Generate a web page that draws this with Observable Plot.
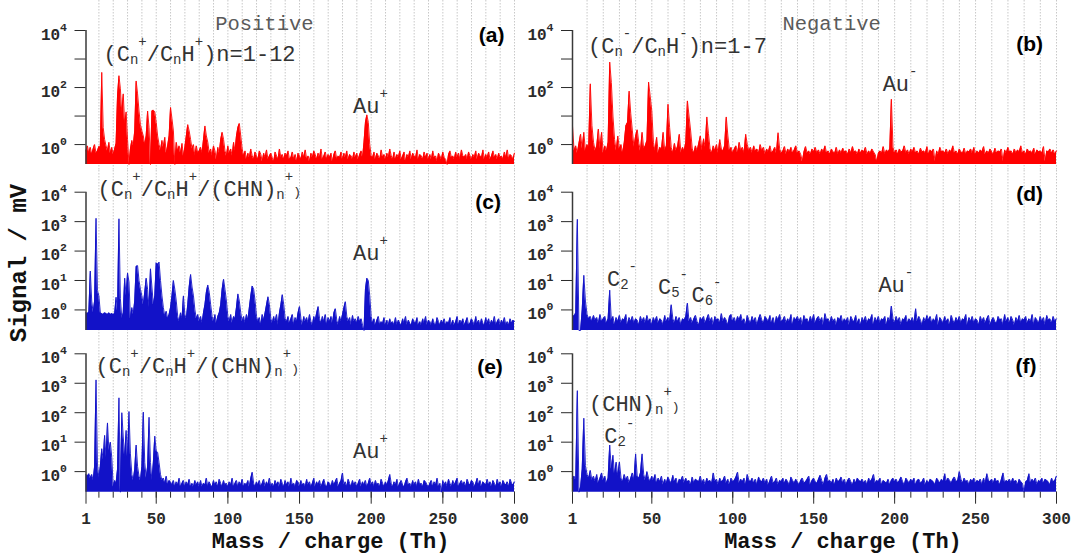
<!DOCTYPE html>
<html><head><meta charset="utf-8">
<script src="https://cdn.jsdelivr.net/npm/d3@7"></script>
<script src="https://cdn.jsdelivr.net/npm/@observablehq/plot@0.6"></script>
<style>
html,body{margin:0;padding:0;background:#fff;overflow:hidden;}
#fig{position:relative;width:1072px;height:554px;overflow:hidden;}
#fig > div{position:absolute;}
</style></head><body><div id="fig"></div>
<script>
// ---- Spectra: signal (mV) at m/z = 1..300, one value per unit ----
const posA = [ // (a) positive, red
0.6,0.9,0.5,0.8,0.45,0.7,1.0,0.5,0.6,0.85,
0.8,340,4,1.5,0.9,0.6,1.2,0.5,0.8,0.45,
0.7,1.1,50,260,90,12,60,5,14,1.5,
0.2,0.7,1.4,0.9,3,170,60,15,5,3,
2,1,2,15,4,0.2,15,16,14,6,
2,1,0.6,1.4,0.8,1.8,0.5,0.9,2,20,
8,3,0.2,1.2,0.6,0.9,0.5,1.1,0.4,0.8,
2,5,3,1.5,0.7,1,0.4,0.9,0.5,0.6,
0.8,0.5,1.5,4.5,2,1.2,0.5,0.7,0.4,0.9,
0.6,0.3,0.8,0.5,1.5,2.7,1.5,0.6,0.4,0.9,
0.5,0.7,0.4,1.2,0.6,2,4,5.5,2,0.7,
0.4,0.6,0.3,0.5,0.35,0.7,0.4,0.3,0.55,0.4,
0.3,0.6,0.45,0.25,0.5,0.35,0.65,0.3,0.4,0.5,
0.35,0.25,0.55,0.4,0.3,0.7,0.35,0.45,0.3,0.5,
0.4,0.6,0.3,0.35,0.55,0.3,0.45,0.25,0.5,0.4,
0.3,0.55,0.35,0.65,0.3,0.4,0.25,0.5,0.35,0.6,
0.45,0.3,0.5,0.35,0.7,0.3,0.4,0.55,0.3,0.45,
0.35,0.5,0.25,0.45,0.6,0.3,0.4,0.35,0.55,0.3,
0.5,0.35,0.6,0.3,0.45,0.4,0.3,0.55,0.35,0.5,
0.3,0.45,0.6,0.35,1.2,6,11,6,1,0.4,
0.35,0.55,0.3,0.5,0.4,0.3,0.65,0.35,0.45,0.3,
0.5,0.35,0.7,0.4,0.3,0.55,0.3,0.45,0.35,0.6,
0.3,0.4,0.55,0.25,0.45,0.35,0.6,0.3,0.5,0.4,
0.35,0.65,0.3,0.45,0.4,0.3,0.55,0.35,0.5,0.3,
0.45,0.3,0.6,0.35,0.4,0.25,0.5,0.4,0.3,0.55,
0.35,0.3,0.2,0.45,0.6,0.35,0.4,0.3,0.55,0.35,
0.5,0.3,0.65,0.4,0.35,0.45,0.3,0.55,0.4,0.3,
0.45,0.35,0.6,0.3,0.5,0.4,0.35,0.65,0.3,0.45,
0.35,0.55,0.3,0.4,0.6,0.35,0.45,0.3,0.5,0.35,
0.4,0.3,0.55,0.35,0.65,0.3,0.45,0.4,0.3,0.5];

const negB = [ // (b) negative, red
4.5,0.6,0.9,0.5,1.1,2.3,0.7,2.7,0.6,1.0,
0.8,135,4.7,1.2,0.6,0.9,3.5,0.7,2.7,0.5,
0.9,0.6,1.2,780,150,10,1.5,0.6,2,0.7,
1.0,0.5,1.2,4.6,6,75,12,3,0.8,2,
3.3,1.1,0.6,2.7,0.7,0.9,1.4,155,50,15,
1.2,0.6,1.8,0.5,0.8,0.7,2.7,0.6,0.9,26,
4,0.8,0.5,1.1,0.6,0.9,2.3,0.5,0.8,0.6,
1.2,34,10,3,0.7,0.5,0.9,0.6,1.1,2,
0.6,1.6,0.8,9.3,2.4,0.7,0.5,0.9,0.6,1.0,
0.5,1.5,0.7,0.6,0.9,9.3,2,0.6,0.8,0.5,
0.7,0.9,0.5,1.2,0.6,0.8,0.5,2.3,1.0,0.6,
0.8,0.5,0.9,0.6,0.7,0.5,1.0,0.6,0.8,0.45,
0.7,0.55,0.9,0.5,0.6,0.8,0.5,2.6,0.7,0.5,
0.6,0.85,0.45,0.7,0.55,0.8,0.5,0.65,0.9,0.5,
0.6,0.45,0.25,0.55,0.85,0.5,0.6,0.45,0.7,0.55,
0.8,0.5,0.65,0.45,0.7,0.55,0.9,0.5,0.6,0.45,
0.7,0.55,0.5,0.8,0.45,0.65,0.5,0.75,0.55,0.6,
0.45,0.7,0.5,0.85,0.55,0.6,0.45,0.7,0.5,0.65,
0.55,0.8,0.45,0.6,0.5,0.7,0.55,0.45,0.25,0.5,
0.6,0.5,0.85,0.45,0.65,0.55,0.7,39,0.8,0.5,
0.65,0.45,0.7,0.55,0.6,0.9,0.5,0.65,0.45,0.7,
0.55,0.8,0.5,0.6,0.45,0.75,0.55,0.6,0.5,0.85,
0.45,0.65,0.55,0.7,0.25,0.6,0.45,0.8,0.55,0.6,
0.5,0.7,0.45,0.65,0.55,0.9,0.5,0.6,0.45,0.7,
0.55,0.5,0.75,0.45,0.6,0.55,0.7,0.5,0.8,0.45,
0.6,0.5,0.65,0.55,0.85,0.45,0.6,0.5,0.7,0.55,
0.45,0.75,0.5,0.6,0.55,0.7,0.25,0.65,0.5,0.8,
0.55,0.6,0.45,0.7,0.5,0.65,0.55,0.9,0.5,0.6,
0.45,0.7,0.55,0.6,0.5,0.75,0.45,0.65,0.55,0.6,
0.5,0.85,0.25,0.6,0.55,0.7,0.5,0.65,0.45,0.6];

const posC = [ // (c) positive, blue
0.8,0.75,0.85,21,2,0.8,2,1300,4.6,3,
0.8,0.75,0.7,0.8,0.75,0.7,0.8,0.7,0.75,0.7,
0.75,2.7,0.9,1250,2.4,0.5,0.8,12,3,18,
9,0.5,1.2,0.7,2,30,32,10,5,3,
1.5,4,12,5,1.2,25,6,1.5,3,40,
35,42,10,3,1.2,0.6,0.9,0.5,0.7,1.2,
3,10,5,2,0.6,0.4,0.8,0.5,3,0.7,
0.5,1.5,6,16,6,3,1,0.5,0.7,0.4,
0.6,0.35,0.8,1.5,4,7,4,1.5,0.6,0.4,
0.7,0.35,0.6,0.8,1.5,5,11,5,2,0.6,
0.4,0.7,0.35,0.6,0.5,1.2,3.5,2,0.8,0.4,
0.6,0.35,0.7,0.45,1.2,3,6.5,5,2,0.6,
0.4,0.55,0.3,0.7,0.45,0.8,1.5,2.8,1.5,0.5,
0.35,0.6,0.4,0.7,0.3,0.8,1.5,3.3,1.5,0.5,
0.4,0.6,0.35,0.5,0.7,0.3,0.55,0.4,0.8,1.3,
0.5,0.3,0.6,0.4,0.55,0.35,0.7,0.4,0.3,0.6,
0.45,0.8,1.3,0.5,0.35,0.6,0.4,0.7,0.3,0.55,
0.4,0.6,0.35,0.8,1.1,0.45,0.3,0.6,0.4,0.7,
1.2,1.9,0.6,0.4,0.55,0.3,0.65,0.4,0.5,0.35,
0.6,0.4,0.5,0.3,0.2,5,12,10,3,0.6,
0.35,0.5,0.3,0.45,0.6,0.3,0.4,0.35,0.55,0.3,
0.45,0.3,0.5,0.35,0.4,0.3,0.55,0.3,0.45,0.35,
0.3,0.5,0.35,0.6,0.3,0.45,0.35,0.3,0.5,0.4,
0.35,0.55,0.3,0.4,0.3,0.5,0.35,0.6,0.3,0.45,
0.4,0.3,0.5,0.35,0.3,0.55,0.4,0.3,0.45,0.35,
0.5,0.3,0.4,0.35,0.55,0.3,0.45,0.3,0.4,0.6,
0.3,0.45,0.35,0.5,0.3,0.4,0.55,0.3,0.35,0.5,
0.4,0.3,0.6,0.35,0.45,0.3,0.5,0.35,0.3,0.55,
0.35,0.5,0.3,0.45,0.35,0.6,0.3,0.4,0.5,0.3,
0.45,0.35,0.55,0.3,0.4,0.3,0.5,0.35,0.45,0.4];

const negD = [ // (d) negative, blue
0.7,0.6,0.8,1200,0.2,0.2,1,15,2,0.7,
0.5,0.6,0.4,0.65,0.45,0.55,0.35,0.7,0.4,0.5,
0.6,0.35,0.5,4.7,0.45,0.6,0.3,0.55,0.4,0.65,
0.35,0.5,0.45,0.7,0.3,0.55,0.4,0.6,0.35,0.5,
0.45,0.3,0.6,0.4,0.55,0.35,0.65,0.4,0.5,0.3,
0.55,0.4,0.6,0.35,0.5,0.45,0.3,0.65,0.4,0.55,
0.4,1.5,0.5,0.35,0.6,0.4,0.55,0.3,0.5,0.45,
0.6,1.7,0.4,0.55,0.35,0.5,0.65,0.4,0.3,0.55,
0.45,0.6,0.35,0.5,0.7,0.4,0.55,0.3,0.6,0.45,
0.5,0.35,0.75,0.4,0.55,0.45,0.3,0.6,0.7,0.4,
0.55,0.35,0.6,0.45,0.7,0.4,0.5,0.3,0.65,0.45,
0.35,0.6,0.4,0.55,0.3,0.5,0.7,0.45,0.35,0.6,
0.5,0.4,0.65,0.35,0.55,0.3,0.6,0.45,0.7,0.4,
0.45,0.6,0.35,0.5,0.4,0.7,0.3,0.55,0.45,0.6,
0.4,0.55,0.3,0.65,0.45,0.5,0.35,0.6,0.4,0.7,
0.35,0.5,0.6,0.4,0.55,0.3,0.75,0.45,0.5,0.35,
0.6,0.4,0.5,0.3,0.55,0.45,0.65,0.35,0.5,0.4,
0.55,0.3,0.6,0.45,0.4,0.65,0.35,0.5,0.3,0.55,
0.4,0.6,0.35,0.5,0.45,0.7,0.3,0.55,0.4,0.6,
0.35,0.5,0.45,0.6,0.3,0.55,0.4,1.35,0.5,0.35,
0.6,0.4,0.55,0.3,0.5,0.45,0.65,0.35,0.5,0.4,
0.55,0.35,1.1,0.4,0.6,0.45,0.3,0.55,0.4,0.65,
0.45,0.6,0.35,0.5,0.4,0.7,0.3,0.55,0.45,0.35,
0.6,0.4,0.5,0.3,0.65,0.45,0.35,0.55,0.4,0.6,
0.35,0.5,0.45,0.7,0.3,0.55,0.4,0.6,0.35,0.5,
0.45,0.3,0.6,0.4,0.55,0.35,0.5,0.65,0.3,0.45,
0.55,0.4,0.35,0.6,0.45,0.5,0.3,0.7,0.4,0.55,
0.35,0.6,0.45,0.3,0.55,0.4,0.65,0.35,0.5,0.45,
0.6,0.35,0.5,0.4,0.7,0.3,0.55,0.45,0.35,0.6,
0.4,0.55,0.3,0.65,0.45,0.5,0.35,0.6,0.4,0.5];

const posE = [ // (e) positive, blue
0.8,0.7,0.85,0.6,0.8,0.5,1.5,1300,1.8,0.6,
1.5,6,2.5,17,3,45,5,10,3,0.3,
0.5,0.4,1.2,320,0.2,100,15,3,25,3,
110,4,0.8,0.5,1.2,8,1.5,0.7,0.5,1.5,
105,2,0.6,1.5,70,2,0.5,2,16,5,
4.5,2,0.8,0.5,0.6,0.4,0.7,0.35,0.5,0.45,
0.35,0.5,0.3,0.45,0.35,0.6,0.3,0.4,0.5,0.3,
0.45,0.35,0.55,0.3,0.4,0.3,0.5,0.35,0.45,0.3,
0.5,0.3,0.4,0.35,0.6,0.3,0.45,0.35,0.3,0.5,
0.35,0.45,0.3,0.55,0.4,0.3,0.5,0.35,0.4,0.3,
0.45,0.35,0.6,0.3,0.4,0.5,0.3,0.45,0.35,0.55,
0.3,0.4,0.35,0.5,0.3,0.6,0.95,0.4,0.3,0.45,
0.35,0.5,0.3,0.4,0.55,0.3,0.45,0.35,0.6,0.3,
0.4,0.3,0.5,0.35,0.45,0.3,0.55,0.4,0.3,0.5,
0.35,0.45,0.3,0.6,0.35,0.4,0.3,0.5,0.45,0.3,
0.5,0.35,0.4,0.3,0.55,0.35,0.45,0.3,0.4,0.6,
0.3,0.45,0.35,0.5,0.3,0.4,0.55,0.35,0.3,0.45,
0.4,0.3,0.5,0.35,0.45,0.6,0.3,0.4,0.5,0.9,
0.35,0.45,0.3,0.55,0.4,0.3,0.5,0.35,0.45,0.3,
0.4,0.55,0.3,0.45,0.35,0.5,0.3,0.4,0.6,0.35,
0.45,0.3,0.5,0.35,0.4,0.3,0.55,0.4,0.3,0.45,
0.35,0.5,0.8,0.4,0.3,0.45,0.35,0.55,0.3,0.4,
0.5,0.35,0.3,0.45,0.6,0.35,0.4,0.3,0.5,0.35,
0.45,0.3,0.55,0.35,0.4,0.3,0.5,0.45,0.35,0.3,
0.4,0.5,0.3,0.45,0.35,0.6,0.3,0.4,0.2,0.5,
0.35,0.45,0.3,0.55,0.4,0.3,0.5,0.35,0.45,0.6,
0.3,0.4,0.5,0.35,0.45,0.3,0.55,0.4,0.35,0.5,
0.45,0.3,0.4,0.6,0.35,0.5,0.3,0.45,0.4,0.35,
0.55,0.35,0.45,0.3,0.5,0.4,0.3,0.55,0.35,0.45,
0.3,0.5,0.4,0.35,0.45,0.3,0.55,0.4,0.35,0.45];

const negF = [ // (f) negative, blue
0.6,0.7,0.5,560,0.2,0.3,1.2,65,1.6,0.8,
0.6,1.1,0.5,0.7,0.45,0.8,0.4,0.6,0.9,0.5,
0.7,0.4,0.6,8,1.2,3.6,0.8,2.1,0.7,2.1,
0.6,0.45,0.8,0.5,0.7,0.4,0.6,0.9,0.5,4,
0.7,0.6,0.9,4,0.8,0.5,1.0,0.6,0.45,0.7,
0.5,0.8,0.4,0.6,0.45,0.7,0.35,0.55,0.4,0.65,
0.5,0.4,0.75,0.45,0.6,0.35,0.55,0.5,0.7,0.4,
0.6,0.45,0.5,0.35,0.65,0.4,0.55,0.5,0.45,0.7,
0.4,0.55,0.35,0.6,0.45,0.5,0.4,0.9,0.45,0.55,
0.35,0.6,0.45,0.5,0.7,0.4,0.55,0.35,0.6,0.45,
0.5,0.65,0.95,0.4,0.55,0.45,0.6,0.35,0.8,0.5,
0.45,0.6,0.4,0.55,0.35,0.65,0.5,0.45,0.6,0.4,
0.55,0.35,0.5,0.7,0.4,0.45,0.6,0.35,0.5,0.45,
0.6,0.4,0.55,0.45,0.35,0.65,0.5,0.4,0.55,0.45,
0.35,0.5,0.6,0.4,0.45,0.55,0.7,0.35,0.5,0.6,
0.45,0.4,0.55,0.75,0.5,0.35,0.6,0.8,0.45,0.5,
0.4,0.55,0.35,0.6,0.45,0.5,0.65,0.4,0.55,0.35,
0.5,0.6,0.45,0.35,0.55,0.4,0.6,0.5,0.45,0.55,
0.4,0.5,0.35,0.6,0.45,0.55,0.8,0.4,0.5,0.45,
0.6,0.35,0.5,0.45,0.4,0.55,0.35,0.5,0.6,0.45,
0.55,0.4,0.5,0.65,0.45,0.35,0.6,0.5,0.4,0.55,
0.45,0.6,0.35,0.5,0.55,0.4,0.45,0.6,0.35,0.5,
0.4,0.55,0.5,0.45,0.35,0.6,0.5,0.4,0.55,0.45,
0.85,0.45,0.6,0.5,0.4,0.55,0.65,0.45,0.5,1.0,
0.55,0.4,0.6,0.45,0.5,0.35,0.55,0.45,0.6,0.4,
0.5,0.45,0.55,0.35,0.6,0.4,0.85,0.5,0.45,0.55,
0.4,0.6,0.45,0.5,0.35,0.55,0.9,0.4,0.5,0.45,
0.55,0.4,0.6,0.45,0.5,0.35,0.55,0.45,0.4,0.2,
0.45,0.5,0.85,0.4,0.55,0.45,0.6,0.35,0.5,0.45,
0.6,0.4,0.55,0.5,0.45,0.35,0.6,0.45,0.5,0.7];

// ---- axes / tick values ----
const xDomain = [1, 300];
const yDomain = [0.2, 1e4];
const gridTicks = d3.range(10, 301, 10);
const xLabelTicks = [1, 50, 100, 150, 200, 250, 300];
const decadesAll = [1, 10, 100, 1000, 10000];
const decadesEven = [1, 100, 10000];
const decadesOdd = [10, 1000];

for (const [n, a] of Object.entries({posA, negB, posC, negD, posE, negF}))
  if (a.length !== 300) throw new Error(n + " has " + a.length + " values");

const MONO = "'Liberation Mono','Courier New',monospace";
const SANS = "'Liberation Sans',Arial,sans-serif";
const RED = "#ff0000", BLUE = "#1212c8";

const rows = [
  {top: 0,   height: 170, mt: 30,   mb: 6},
  {top: 170, height: 165, mt: 21.7, mb: 5},
  {top: 335, height: 219, mt: 18.3, mb: 62.3}
];
const cols = [
  {left: 0,   width: 530, ml: 85.5, mr: 16},
  {left: 530, width: 542, ml: 42,   mr: 16}
];

// text pieces: [string, kind]  kind: sub | sup | small
const fA = [["(C"],["n","sub"],["+","sup"],["/C"],["n","sub"],["H"],["+","sup"],[")n=1-12"]];
const fB = [["(C"],["n","sub"],["-","sup"],["/C"],["n","sub"],["H"],["-","sup"],[")n=1-7"]];
const fCE = [["(C"],["n","sub"],["+","sup"],["/C"],["n","sub"],["H"],["+","sup"],["/(CHN)"],["n","sub"],["+","sup"],[")","small"]];
const fF = [["(CHN)"],["n","sub"],["+","sup"],[")","small"]];
const auP = [["Au"],["+","sup"]], auN = [["Au"],["-","sup"]];
const c2 = [["C"],["2","sub"],["-","sup"]], c5 = [["C"],["5","sub"],["-","sup"]], c6 = [["C"],["6","sub"],["-","sup"]];

const panels = [
  {row: 0, col: 0, values: posA, color: RED, major: decadesEven, minor: decadesOdd, letter: ["(a)", 293.4, 3650],
   notes: [[fA, 13.56, 818], [auP, 187.7, 12.3]], title: ["Positive", 125.8, 1e4]},
  {row: 0, col: 1, values: negB, color: RED, major: decadesEven, minor: decadesOdd, letter: ["(b)", 292.0, 1840],
   notes: [[fB, 10.88, 1500], [auN, 192.9, 75]], title: ["Negative", 161.4, 1e4]},
  {row: 1, col: 0, values: posC, color: BLUE, major: decadesAll, minor: [], letter: ["(c)", 290.9, 2580],
   notes: [[fCE, 9.37, 7150], [auP, 187.7, 47.8]], ytitle: true},
  {row: 1, col: 1, values: negD, color: BLUE, major: decadesAll, minor: [], letter: ["(d)", 292.0, 4830],
   notes: [[c2, 22.62, 6.5], [c5, 54.13, 3.34], [c6, 74.83, 1.79], [auN, 190.3, 3.76]]},
  {row: 2, col: 0, values: posE, color: BLUE, major: decadesAll, minor: [], letter: ["(e)", 292.2, 1980],
   notes: [[fCE, 7.98, 2228], [auP, 187.7, 2.79]], xtitle: 172},
  {row: 2, col: 1, values: negF, color: BLUE, major: decadesAll, minor: [], letter: ["(f)", 287.9, 2140],
   notes: [[fF, 11.5, 110], [c2, 20.95, 9.0]], xtitle: 168.4}
];

function rich(g, x, y, parts, o = {}) {
  const size = o.size ?? 22, small = 14;
  const t = g.append("text").attr("x", x).attr("y", y)
    .attr("font-family", o.family ?? MONO).attr("font-size", size)
    .attr("font-weight", o.weight ?? "normal").attr("fill", o.fill ?? "#333")
    .attr("text-anchor", o.anchor ?? "start").style("white-space", "pre");
  let cur = 0;
  for (const [s, kind] of parts) {
    const off = kind === "sup" ? -15 : kind === "sub" ? 3 : 0;
    const fs = (kind === "sup" || kind === "sub") ? small : kind === "small" ? 13 : size;
    t.append("tspan").attr("dy", off - cur).attr("font-size", fs).text(s);
    cur = off;
  }
  if (o.rotate) t.attr("transform", `rotate(${o.rotate},${x},${y})`);
  return t;
}

const fig = d3.select("#fig");
for (const p of panels) {
  const r = rows[p.row], c = cols[p.col];
  const data = p.values.map((v, i) => ({mz: i + 1, v}));
  const bottom = p.row === 2;
  const marks = [
    Plot.ruleX(gridTicks, {stroke: "#c8c8c8", strokeWidth: 1, strokeDasharray: "1.5,1.5",
      insetTop: -r.mt, insetBottom: bottom ? 0 : -r.mb}),
    Plot.areaY(data, {x: "mz", y1: yDomain[0], y2: "v", fill: p.color}),
    Plot.lineY(data, {x: "mz", y: "v", stroke: p.color, strokeWidth: 0.9}),
    Plot.ruleX([xDomain[0]], {stroke: "#3a3a3a", strokeWidth: 1.5}),
    Plot.axisY({ticks: p.major, tickSize: 11, tickPadding: 8, label: null,
      tickFormat: d => "10^" + Math.round(Math.log10(d)),
      fontFamily: MONO, fontWeight: "bold", fontSize: 16})
  ];
  if (p.minor.length) marks.push(Plot.axisY({ticks: p.minor, tickSize: 11, label: null, tickFormat: () => ""}));
  if (bottom) {
    marks.push(Plot.axisX({ticks: gridTicks, tickSize: 6, label: null, tickFormat: () => ""}));
    marks.push(Plot.axisX({ticks: xLabelTicks, tickSize: 12, tickPadding: 8, label: null,
      tickFormat: d => String(d), fontFamily: MONO, fontWeight: "bold", fontSize: 16}));
  }
  const plot = Plot.plot({
    width: c.width, height: r.height,
    marginLeft: c.ml, marginRight: c.mr, marginTop: r.mt, marginBottom: r.mb,
    x: bottom ? {domain: xDomain, label: null} : {domain: xDomain, label: null, axis: null},
    y: {type: "log", domain: yDomain, label: null},
    style: {background: "transparent", overflow: "visible", color: "#2a2a2a"},
    marks
  });
  const svg = d3.select(plot);
  // superscript exponents on the decade labels
  svg.selectAll('g[aria-label="y-axis tick label"] text').each(function () {
    const s = this.textContent;
    if (!s || !s.includes("^")) return;
    const [b, e] = s.split("^");
    const t = d3.select(this);
    t.text(b);
    t.append("tspan").attr("dy", -9).attr("font-size", 11.5).text(e);
    t.attr("transform", (t.attr("transform") || "") + " translate(0,4)");
  });
  const X = plot.scale("x"), Y = plot.scale("y");
  const g = svg.append("g");
  for (const [parts, mz, v] of p.notes) rich(g, X.apply(mz), Y.apply(v), parts);
  rich(g, X.apply(p.letter[1]), Y.apply(p.letter[2]), [[p.letter[0]]],
    {family: SANS, weight: "bold", size: 21, fill: "#000", anchor: "end"});
  if (p.title) rich(g, X.apply(p.title[1]), Y.apply(p.title[2]), [[p.title[0]]],
    {size: 20.5, fill: "#5a5a5a", anchor: "middle"});
  if (p.ytitle) rich(g, 26, 263 - r.top, [["Signal / mV"]],
    {size: 24, weight: "bold", fill: "#111", anchor: "middle", rotate: -90});
  if (p.xtitle) rich(g, X.apply(p.xtitle), r.height - r.mb + 55.8, [["Mass / charge (Th)"]],
    {size: 22, weight: "bold", fill: "#111", anchor: "middle"});
  fig.append("div").style("left", c.left + "px").style("top", r.top + "px")
    .style("width", c.width + "px").style("height", r.height + "px")
    .node().appendChild(plot);
}
</script></body></html>
